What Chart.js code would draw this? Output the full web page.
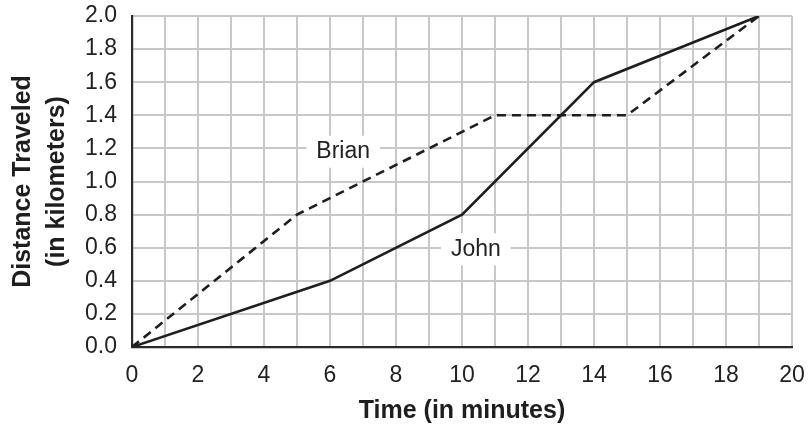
<!DOCTYPE html>
<html>
<head>
<meta charset="utf-8">
<script src="https://cdn.jsdelivr.net/npm/chart.js@4"></script>
<style>
  html, body { margin: 0; padding: 0; background: #ffffff; }
  #wrap { width: 808px; height: 430px; position: relative; }
</style>
</head>
<body>
<div id="wrap"><canvas id="c"></canvas></div>
<script>
// ---- data ----
const johnTimes = [0, 6, 10, 14, 19];
const johnDistances = [0, 0.4, 0.8, 1.6, 2.0];
const brianTimes = [0, 5, 11, 15, 19];
const brianDistances = [0, 0.8, 1.4, 1.4, 2.0];
const xTickValues = [0, 2, 4, 6, 8, 10, 12, 14, 16, 18, 20];
const yTickValues = [0, 0.2, 0.4, 0.6, 0.8, 1.0, 1.2, 1.4, 1.6, 1.8, 2.0];
const seriesNames = ['John', 'Brian'];
const xTitle = 'Time (in minutes)';
const yTitle = ['Distance Traveled', '(in kilometers)'];

// label anchors (data coordinates) for the inline series names
const labelAnchors = { Brian: [6.4, 1.18], John: [10.42, 0.59] };

const toPoints = (xs, ys) => xs.map((x, i) => ({ x: x, y: ys[i] }));
const FONT = '"Liberation Sans", Arial, sans-serif';

const inlineLabels = {
  id: 'inlineLabels',
  beforeDatasetsDraw(chart) {
    const ctx = chart.ctx;
    const xs = chart.scales.x, ys = chart.scales.y;
    ctx.save();
    ctx.font = '23px ' + FONT;
    ctx.textAlign = 'center';
    ctx.textBaseline = 'middle';
    seriesNames.forEach(name => {
      const a = labelAnchors[name];
      const px = xs.getPixelForValue(a[0]);
      const py = ys.getPixelForValue(a[1]);
      const w = ctx.measureText(name).width;
      ctx.fillStyle = '#ffffff';
      ctx.fillRect(px - w / 2 - 10, py - 16, w + 20, 32);
      ctx.fillStyle = '#222222';
      ctx.fillText(name, px, py);
    });
    ctx.restore();
  }
};

function zeroPad(scale) {
  scale.paddingTop = 0; scale.paddingBottom = 0;
  scale.paddingLeft = 0; scale.paddingRight = 0;
}

new Chart(document.getElementById('c'), {
  type: 'line',
  data: {
    datasets: [
      {
        label: seriesNames[0],
        data: toPoints(johnTimes, johnDistances),
        borderColor: '#1e1e1e',
        borderWidth: 2.6,
        pointRadius: 0,
        tension: 0,
        fill: false
      },
      {
        label: seriesNames[1],
        data: toPoints(brianTimes, brianDistances),
        borderColor: '#1e1e1e',
        borderWidth: 2.6,
        borderDash: [9, 6],
        pointRadius: 0,
        tension: 0,
        fill: false
      }
    ]
  },
  options: {
    responsive: true,
    maintainAspectRatio: false,
    animation: false,
    layout: { padding: { top: 16, right: 16, left: 0, bottom: 0 } },
    plugins: { legend: { display: false }, tooltip: { enabled: false } },
    scales: {
      x: {
        type: 'linear',
        min: 0, max: 20,
        afterFit(scale) { scale.height = 83; zeroPad(scale); },
        afterBuildTicks(scale) {
          const t = [];
          for (let v = 0; v <= 20; v++) t.push({ value: v });
          scale.ticks = t;
        },
        ticks: {
          autoSkip: false,
          maxRotation: 0,
          padding: 15,
          color: '#222222',
          font: { family: FONT, size: 23 },
          callback: (v) => xTickValues.includes(v) ? String(v) : ''
        },
        grid: { color: '#c8c8c8', lineWidth: 2, drawTicks: false },
        border: { color: '#2a2a2a', width: 2.2 },
        title: {
          display: true,
          text: xTitle,
          color: '#1e1e1e',
          font: { family: FONT, size: 25, weight: 'bold', lineHeight: 1.2 },
          padding: { top: 0, bottom: 4 }
        }
      },
      y: {
        type: 'linear',
        min: 0, max: 2,
        afterFit(scale) { scale.width = 132; zeroPad(scale); },
        afterBuildTicks(scale) {
          scale.ticks = yTickValues.map(v => ({ value: v }));
        },
        ticks: {
          autoSkip: false,
          padding: 15,
          color: '#222222',
          font: { family: FONT, size: 23 },
          callback: (v) => Number(v).toFixed(1)
        },
        grid: { color: '#c8c8c8', lineWidth: 2, drawTicks: false },
        border: { color: '#2a2a2a', width: 2.2 },
        title: {
          display: true,
          text: yTitle,
          color: '#1e1e1e',
          font: { family: FONT, size: 25, weight: 'bold', lineHeight: 1.36 },
          padding: { top: 6, bottom: 0 }
        }
      }
    }
  },
  plugins: [inlineLabels]
});
</script>
</body>
</html>
